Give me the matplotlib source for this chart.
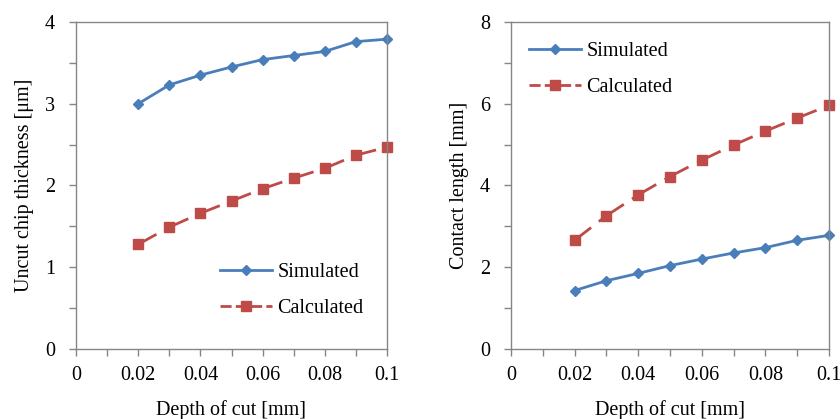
import matplotlib
matplotlib.use("Agg")
import matplotlib.pyplot as plt
from matplotlib.ticker import MultipleLocator

plt.rcParams['font.family'] = ['Liberation Serif', 'DejaVu Serif']

depth = [0.02, 0.03, 0.04, 0.05, 0.06, 0.07, 0.08, 0.09, 0.1]

# uncut chip thickness [um]
thick_sim = [3.00, 3.23, 3.35, 3.45, 3.54, 3.59, 3.64, 3.76, 3.79]
thick_calc = [1.28, 1.49, 1.66, 1.81, 1.96, 2.09, 2.21, 2.37, 2.47]

# contact length [mm]
contact_sim = [1.43, 1.67, 1.85, 2.04, 2.20, 2.35, 2.48, 2.66, 2.78]
contact_calc = [2.66, 3.26, 3.77, 4.22, 4.62, 4.99, 5.33, 5.65, 5.96]

xticks = [0, 0.02, 0.04, 0.06, 0.08, 0.1]
xticklabels = ['0', '0.02', '0.04', '0.06', '0.08', '0.1']

blue = '#4A7EBB'
red = '#BE4B48'
grey = '#868686'
fs = 14.5
dash = (7.5, 3.5)

fig = plt.figure(figsize=(8.4, 4.19), dpi=100)
ax1 = fig.add_axes([76 / 840, 1 - 349 / 419, 311 / 840, 327 / 419])
ax2 = fig.add_axes([511 / 840, 1 - 349 / 419, 318 / 840, 327 / 419])


def style(ax, ymax, ylabel, yminor):
    ax.set_xlim(0, 0.1)
    ax.set_ylim(0, ymax)
    ax.set_xticks(xticks)
    ax.set_xticklabels(xticklabels)
    ax.xaxis.set_minor_locator(MultipleLocator(0.01))
    ax.yaxis.set_major_locator(MultipleLocator(ymax / 4))
    ax.yaxis.set_minor_locator(MultipleLocator(yminor))
    ax.tick_params(which='both', direction='out', color=grey, labelsize=fs,
                   length=5, width=1)
    ax.tick_params(axis='x', which='both', pad=7)
    ax.tick_params(axis='y', which='both', pad=10)
    for s in ax.spines.values():
        s.set_color(grey)
        s.set_linewidth(1)
    ax.set_xlabel('Depth of cut [mm]', fontsize=fs, labelpad=11)
    ax.set_ylabel(ylabel, fontsize=fs, labelpad=8)


def draw(ax, sim, calc):
    ax.plot(depth, sim, color=blue, lw=2, marker='D', ms=5.5, label='Simulated', clip_on=False)
    # excel-style dashes restart at every point, so draw segment by segment
    for i in range(len(depth) - 1):
        ax.plot(depth[i:i + 2], calc[i:i + 2], color=red, lw=2, dashes=dash,
                solid_capstyle='butt', clip_on=False)
    ax.plot(depth, calc, color=red, lw=0, marker='s', ms=7.5, clip_on=False)
    # legend proxy
    ax.plot([], [], color=red, lw=2, dashes=(4, 1.5), marker='s', ms=7.5, label='Calculated')


leg_kw = dict(frameon=False, fontsize=fs, handlelength=2.6, labelspacing=0.85,
              handletextpad=0.25, borderaxespad=0, borderpad=0)

draw(ax1, thick_sim, thick_calc)
style(ax1, 4, 'Uncut chip thickness [μm]', 0.5)
ax1.legend(loc='lower left', bbox_to_anchor=(0.463, 0.095), **leg_kw)

draw(ax2, contact_sim, contact_calc)
style(ax2, 8, 'Contact length [mm]', 1)
ax2.legend(loc='upper left', bbox_to_anchor=(0.057, 0.939), **leg_kw)

fig.savefig('out.png', dpi=100)
